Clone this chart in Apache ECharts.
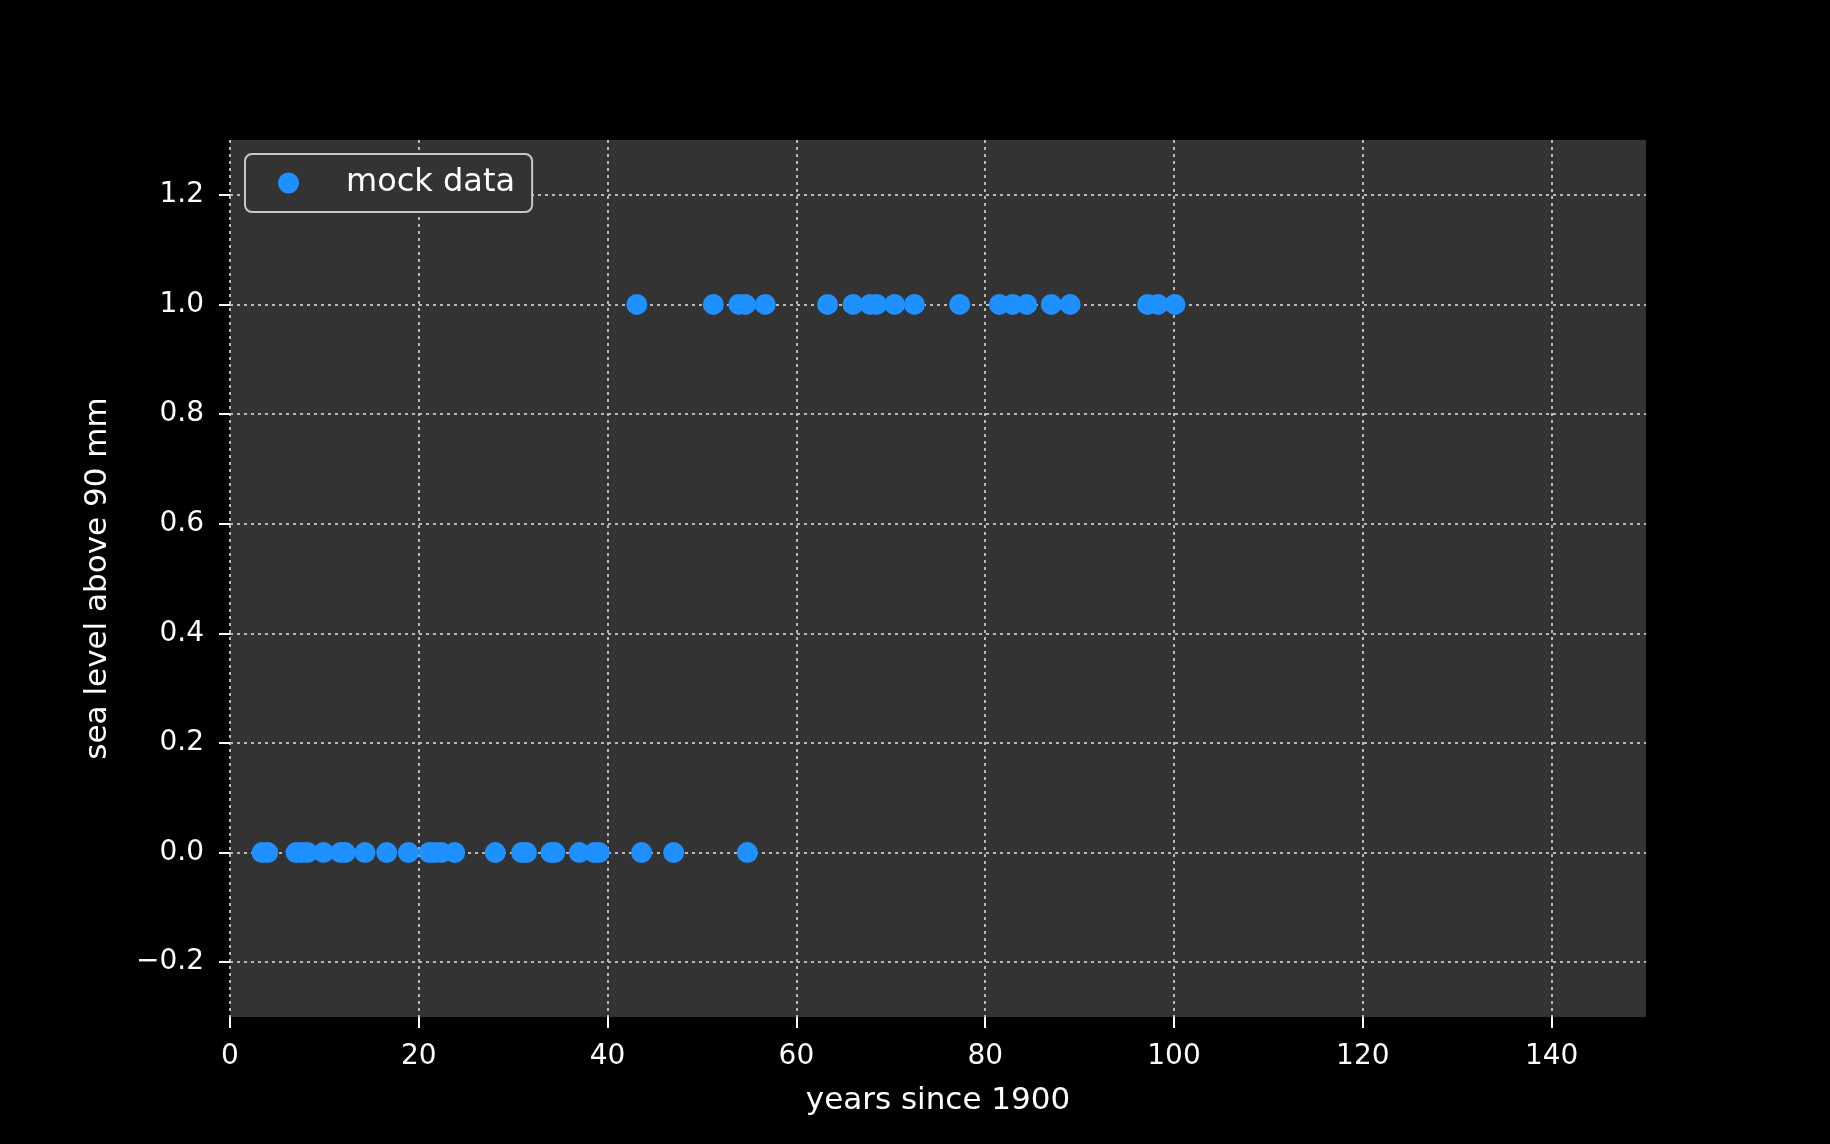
<!DOCTYPE html>
<html>
<head>
<meta charset="utf-8">
<script src="https://cdn.jsdelivr.net/npm/echarts@6/dist/echarts.min.js"></script>
<style>
  html, body { margin: 0; padding: 0; background: #000; }
  #chart { width: 1830px; height: 1144px; }
</style>
</head>
<body>
<div id="chart"></div>
<script>
// points at level 0 and level 1 (years since 1900)
const yearsLow = [3.4, 4.0, 7.0, 7.6, 8.2, 9.9, 11.7, 12.2, 14.3, 16.6, 18.9, 21.1, 21.7, 22.4, 23.8,
  28.1, 30.9, 31.4, 34.0, 34.4, 37.0, 38.6, 39.1, 43.6, 47.0, 54.8]
const yearsHigh = [43.1, 51.2, 53.9, 54.6, 56.7, 63.3, 66.0, 67.8, 68.5, 70.4, 72.5, 77.3, 81.5, 82.9,
  84.4, 87.0, 89.0, 97.2, 98.3, 100.1]
const xTicks = [0, 20, 40, 60, 80, 100, 120, 140]
const yTicks = [-0.2, 0, 0.2, 0.4, 0.6, 0.8, 1.0, 1.2]

const points = yearsLow.map(x => [x, 0]).concat(yearsHigh.map(x => [x, 1]))

const font = "DejaVu Sans"
const gridLine = { show: true, lineStyle: { color: "#b8b8b8", width: 2, type: [3, 4] } }

const chart = echarts.init(document.getElementById("chart"))
chart.setOption({
    backgroundColor: "#000",
    animation: false,
    textStyle: { fontFamily: font },
    grid: {
        left: 230, top: 140, width: 1416, height: 877,
        show: true, backgroundColor: "#333333", borderWidth: 0
    },
    legend: {
        left: 245, top: 154,
        data: ["mock data"],
        icon: "circle",
        itemWidth: 21, itemHeight: 21,
        padding: [13, 17, 13, 33],
        backgroundColor: "#333333",
        borderColor: "#c8c8c8",
        borderWidth: 2,
        borderRadius: 7,
        textStyle: { color: "#fff", fontSize: 32, fontFamily: font, padding: [0, 0, 0, 42] }
    },
    xAxis: {
        type: "value", min: 0, max: 150,
        name: "years since 1900", nameLocation: "middle", nameGap: 68,
        nameTextStyle: { color: "#fff", fontSize: 31, fontFamily: font },
        axisLine: { show: false, onZero: false },
        axisTick: { show: true, length: 11, lineStyle: { color: "#fff", width: 2 }, customValues: xTicks },
        axisLabel: { color: "#fff", fontSize: 28, fontFamily: font, margin: 26, customValues: xTicks },
        splitLine: gridLine
    },
    yAxis: {
        type: "value", min: -0.3, max: 1.3,
        name: "sea level above 90 mm", nameLocation: "middle", nameGap: 117,
        nameTextStyle: { color: "#fff", fontSize: 31, fontFamily: font },
        axisLine: { show: false, onZero: false },
        axisTick: { show: true, length: 11, lineStyle: { color: "#fff", width: 2 }, customValues: yTicks },
        axisLabel: {
            color: "#fff", fontSize: 28, fontFamily: font, margin: 26, customValues: yTicks,
            formatter: v => v.toFixed(1).replace("-", "\u2212")
        },
        splitLine: gridLine
    },
    series: [{
        name: "mock data",
        type: "scatter",
        symbolSize: 21,
        itemStyle: { color: "#1e90ff", opacity: 1 },
        data: points
    }]
})
</script>
</body>
</html>
